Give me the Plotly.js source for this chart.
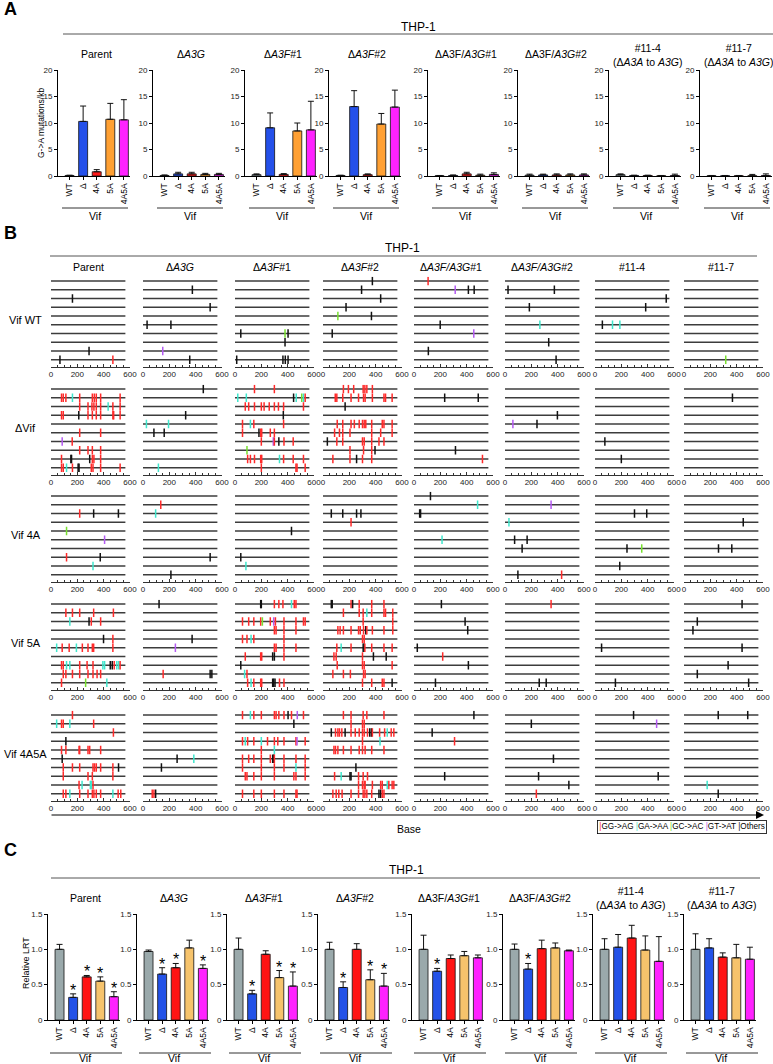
<!DOCTYPE html>
<html><head><meta charset="utf-8">
<script src="https://cdn.plot.ly/plotly-3.0.1.min.js"></script>
<style>html,body{margin:0;padding:0;background:#fff}#fig{width:773px;height:1064px}</style>
</head><body><div id="fig"></div>
<script>
// ---------------- DATA ----------------
const vifLabels = ['WT','Δ','4A','5A','4A5A'];
const colorsA = ['#9aa7ab','#2450ea','#ff1a1a','#ffa033','#ff22ff'];
const colorsC = ['#9aa9ab','#2352e8','#ff1414','#f6c36c','#ff22ff'];
const titlesA = ['Parent','Δ<i>A3G</i>','Δ<i>A3F</i>#1','Δ<i>A3F</i>#2','ΔA3F/<i>A3G</i>#1','ΔA3F/<i>A3G</i>#2','#11-4<br>(Δ<i>A3A</i> to <i>A3G</i>)','#11-7<br>(Δ<i>A3A</i> to <i>A3G</i>)'];
const titlesB = ['Parent','Δ<i>A3G</i>','Δ<i>A3F</i>#1','Δ<i>A3F</i>#2','Δ<i>A3F/A3G</i>#1','Δ<i>A3F/A3G</i>#2','#11-4','#11-7'];
const titlesC = titlesA;

// Panel A: G->A mutations/kb (mean, upper error)
const gaMean = [
  [0.1, 10.3, 0.8, 10.7, 10.6],
  [0.1, 0.4, 0.4, 0.3, 0.3],
  [0.25, 9.1, 0.3, 8.5, 8.7],
  [0.1, 13.1, 0.25, 9.8, 13.0],
  [0.05, 0.1, 0.4, 0.15, 0.3],
  [0.15, 0.2, 0.2, 0.2, 0.2],
  [0.25, 0.1, 0.1, 0.05, 0.1],
  [0.05, 0.05, 0.05, 0.05, 0.1]
];
const gaErr = [
  [0.05, 2.9, 0.4, 3.0, 3.8],
  [0.1, 0.3, 0.3, 0.2, 0.2],
  [0.15, 2.8, 0.15, 1.5, 5.4],
  [0.05, 3.0, 0.15, 2.0, 3.2],
  [0.05, 0.1, 0.3, 0.2, 0.3],
  [0.2, 0.15, 0.2, 0.2, 0.2],
  [0.15, 0.05, 0.05, 0.05, 0.25],
  [0.05, 0.05, 0.05, 0.25, 0.3]
];

// Panel C: relative LRT
const lrtMean = [
  [1.0, 0.32, 0.61, 0.55, 0.33],
  [0.97, 0.65, 0.74, 1.02, 0.73],
  [1.0, 0.37, 0.93, 0.60, 0.48],
  [1.0, 0.46, 1.0, 0.57, 0.48],
  [1.0, 0.69, 0.87, 0.91, 0.88],
  [1.0, 0.72, 1.01, 1.02, 0.98],
  [1.0, 1.03, 1.16, 0.99, 0.83],
  [1.0, 1.02, 0.89, 0.88, 0.86]
];
const lrtErr = [
  [0.07, 0.05, 0.02, 0.06, 0.07],
  [0.02, 0.09, 0.06, 0.11, 0.05],
  [0.16, 0.05, 0.05, 0.10, 0.20],
  [0.10, 0.08, 0.08, 0.14, 0.18],
  [0.20, 0.04, 0.05, 0.06, 0.04],
  [0.075, 0.08, 0.12, 0.07, 0.01],
  [0.15, 0.18, 0.18, 0.20, 0.35],
  [0.22, 0.13, 0.06, 0.19, 0.17]
];
const lrtStar = [
  [0,1,1,1,1],[0,1,1,0,1],[0,1,0,1,1],[0,1,0,1,1],
  [0,1,0,0,0],[0,1,0,0,0],[0,0,0,0,0],[0,0,0,0,0]
];

// Panel B: mutations per clone ("pos+type"; r=GG->AG, c=GA->AA, g=GC->AC, p=GT->AT, k=Others)
const seqLength = 565;
const mutNames = ['GG-&gt;AG','GA-&gt;AA','GC-&gt;AC','GT-&gt;AT','Others'];
const mutKeys = ['r','c','g','p','k'];
const mutColors = {r:'#ff2a2a', c:'#3fe6cc', g:'#78e030', p:'#b45af2', k:'#111111'};
const rowLabelsB = ['Vif WT','ΔVif','Vif 4A','Vif 5A','Vif 4A5A'];

const mutWT = [
  ['', '', '163k', '', '', '', '', '', '289k', '68k 470r'],
  ['', '375k', '', '510k', '', '31k 212k', '', '', '150p', '355k'],
  ['', '', '', '', '', '', '44k 380g 403k', '380k', '', '13k 364k 382k 403k'],
  ['375k', '293k', '438k', '175k', '113g 368k', '', '70k', '', '', ''],
  ['107r', '313p 413k 457k', '', '', '', '199k', '454p', '', '109k', ''],
  ['', '23k 375k', '', '185k', '', '265c', '', '332k', '', '388k'],
  ['', '', '541k', '385k', '', '56k 133c 189c', '', '', '', ''],
  ['', '', '', '', '', '', '', '', '', '317g']
];
const mutDVif = [
  ['', '80r 93r 113r 163c 218r 314r 329r 344r 377r 525r', '218r 281r 311r 326r 344r 377r 434c 470r 525r', '80r 93r 211k 281r 314r 344r 377r 470r 476r 525r', '', '218r 377r', '85p 161r', '218r 281r 314r 377r', '80r 151k 156k 294k 314r 326r 377r', '80r 93r 118c 163r 206k 213k 306r 319r 377r 525r'],
  ['458k', '', '', '324k', '26c 194c', '83k 161k', '', '', '', '117c'],
  ['148r 299r', '21c 86c 445k 465c 507g 520c 533r', '78r 104r 148r 200r 221r 260r 299r 330r 369r 520r', '367k', '57r 117c 143r 369r', '57r 182k 195r 203r 268r 299r', '200r 291p 299r 333k 372r 442r', '91g', '96r 117r 148r 195r 203r 338c 369r 442r 520r', '200r 463r 471r 533r'],
  ['155r 193r 233r 305r 318r 333r 375r', '93r 105r 150r 213r 270r 308r 320r 375r 463r 475r 525r', '168k', '', '108r 150r 213r 238r 275r 300r 313r 325r 370r 450r 463r 525r', '88r 125r 150r 205r 370r 438r 525r', '33k 105r 150r 300r 313r 370r 425r 463r', '205r 308r 370r 395k', '75r 205r 255k 300r 370r', ''],
  ['', '233k 488k', '', '', '', '', '', '315k', '520r', ''],
  ['', '', '', '398k', '60p 243k', '', '', '', '', ''],
  ['', '', '', '', '', '', '75k', '', '200k', ''],
  ['', '368k', '', '', '', '', '', '', '', '']
];
const mut4A = [
  ['', '', '218r 324k 512k', '', '118g', '407p', '', '118r 374k', '319c', ''],
  ['', '135r', '96c', '', '', '', '', '510k', '', '212k'],
  ['', '', '', '', '429k', '', '', '44k', '83c', ''],
  ['', '', '63k 150k 255k 288k', '213r', '', '', '', '', '', ''],
  ['125k', '483c', '43k 50k', '', '', '213c', '', '', '', ''],
  ['', '350p', '', '30c', '', '73k 168k', '130k', '', '', '98k 430r'],
  ['', '', '300k 393k', '', '', '', '243k 355g', '', '188k', ''],
  ['', '', '', '450k', '', '', '262k 363k', '', '', '']
];
const mut5A = [
  ['', '113r 163r 218r 324r 474r', '143c 289k 306r 377r', '', '399k 470r', '43c 85r 138r 193c 238r 281r 314r 324r 470r', '', '80r 93r 118c 143c 218r 274r 319r 394c 407c 450k 465k 480r 500c 515c 525r', '93r 113r 163r 218r 281r 319r 350r 377r', '80r 263g 424c'],
  ['122k', '', '', '', '373k', '246p', '', '', '153r 510k 523k', ''],
  ['195k 200k 299r 333r 364r 429c 450r 463r', '', '57r 104r 143r 195r 208g 268r 294p 307r 372r 463r 520r 533r', '299r 312r 372r 463r', '57r 91r 122c 143r 372r', '299r 312r 372r 463r', '78r 195r 203r 286k 299k 372r', '44k', '73c 91r', '96r 122c 143r 195r 203r 286k 294k 304k 338r 372r'],
  ['63k 70k 213r 225k 275r 370r 463r', '155r 275r 305r 333c 370r 463r 475r 530r', '305r 530r', '113r 130r 155r 213r 270r 283r 308r 325k 333r 375r 463r 530r', '300r 313r', '105r 138c 213r 305k 313k 318r 370r 463r 525r', '83r 100r 300r 383k 480k', '108r 300r 313r 525r', '75r 155r 208r 308r 320r', '300r 370r 450r 463r 525k'],
  ['208k', '', '388k', '408k', '', '25k', '218r', '413k', '', '163k'],
  ['350r', '', '', '', '', '', '', '', '', '260k 313k'],
  ['', '', '', '', '', '50k', '', '', '', '155k'],
  ['441k', '', '101k', '68k', '', '441k', '', '335k', '101k', '491k']
];
const mut4A5A = [
  ['163r', '43c 80r 93r 143c 324r', '474r', '113k', '80r 113r 213r 218r 281r 294r 377r', '85k', '93r 163r 218r 319r 331r 344r 377r 470r 513k', '93r 281r 314r 470r', '213r 236c 299c 306c 319r', '93r 113r 143c 218r 281r 314r 326r 344r 377r 470c 510r 530r'],
  ['', '', '', '', '', '259k 386c', '140k', '', '', '70r 83r 96k'],
  ['57r 117c 143r 200r 299r 312r 333r 372r 403k 429r 473p 520r', '447k', '', '57r 78c 96r 143r 200c 247r 299r 325r 372r 463r 471p 533r', '200r 299c', '57r 104r 143r 200r 268r 286k 294k 299r 372r 463r 533r', '57r 200r 299r 372r 463c 533r', '78r 91r 143r 200r 299r 447r 463r 533r', '', '57r 143r 200r 299r 372r 463r 471r'],
  ['155r 213r 305r 333r 463r', '213r 300r 313r', '63k 95r 113r 125r 143r 168k 213r 245r 275r 300r 313r 338r 355k 368k 375r 430r 468r 488c 518r 538r', '300r 433c', '83r 95r 113r 155r 213r 275r 300r 320r 370r 463r', '', '250k', '88r 138c 205k 213k 270r 305r 338r', '270r 300r 313r 320r 375r 438r 450r 488c 500r 525r 538r', '75r 100r 120r 145r 213r 270r 305r 318r 333r 370r 425k 438k 450r 463r'],
  ['455k', '', '138k', '308r', '', '', '', '233k', '', ''],
  ['', '200k', '', '', '', '368k', '', '255k', '485k', '238r'],
  ['293k', '468p', '', '', '', '', '', '480k', '', ''],
  ['260k 484k', '', '', '', '', '', '', '', '176c', '260k']
];
const mutRows = [mutWT, mutDVif, mut4A, mut5A, mut4A5A];

// ---------------- GEOMETRY (px) ----------------
const W = 773, H = 1064;
const FONT = 'Arial, "Liberation Sans", Helvetica, sans-serif';
const fx = p => p / W, fy = p => 1 - p / H;
const axA = [58,153,245,329,428,518,609,700];
const axB = [51,143,235,323,414,505,595,684];
const axC = [48,137,227,318,412,503,593,684];
const rowTopB = [281,389,496,604,715];
const lineStep = 8.75;

const data = [];
const layout = {
  width: W, height: H, margin:{l:0,r:0,t:0,b:0}, showlegend:false,
  paper_bgcolor:'#fff', plot_bgcolor:'rgba(0,0,0,0)',
  font:{family:FONT, color:'#000', size:10},
  annotations:[], shapes:[]
};
let n = 0;
function addAxes(xd, yd, xopt, yopt){
  n++;
  const s = n === 1 ? '' : String(n);
  layout['xaxis'+s] = Object.assign({domain:xd, anchor:'y'+s}, xopt);
  layout['yaxis'+s] = Object.assign({domain:yd, anchor:'x'+s}, yopt);
  return ['x'+s, 'y'+s];
}
function ann(o){ layout.annotations.push(Object.assign({xref:'paper', yref:'paper', showarrow:false, xanchor:'center', yanchor:'middle', font:{family:FONT, size:10, color:'#000'}}, o)); }
function hline(x0, x1, y, w, c){ layout.shapes.push({type:'line', xref:'paper', yref:'paper', x0:fx(x0), x1:fx(x1), y0:fy(y), y1:fy(y), line:{color:c||'#000', width:w||1}}); }

function barPanel(axPx, topPx, botPx, means, errs, colors, yRange, yTicks, yText, stars){
  const [xr, yr] = addAxes([fx(axPx), fx(axPx+72)], [fy(botPx), fy(topPx)], {
    type:'category', categoryarray:vifLabels, range:[-0.85, 4.45],
    showline:true, linecolor:'#000', linewidth:1, ticks:'outside', ticklen:3, tickwidth:1, tickcolor:'#000',
    tickangle:-90, tickfont:{size:8.5, family:FONT}, showgrid:false, zeroline:false, fixedrange:true
  }, {
    range:yRange, tickmode:'array', tickvals:yTicks, ticktext:yText, showline:true, linecolor:'#000', linewidth:1,
    ticks:'outside', ticklen:3, tickwidth:1, tickcolor:'#000', tickfont:{size:8, family:FONT, color:'#222'},
    showgrid:false, zeroline:false, fixedrange:true
  });
  data.push({type:'bar', x:vifLabels, y:means, xaxis:xr, yaxis:yr, width:0.66,
    marker:{color:colors, line:{color:'#111', width:0.8}},
    error_y:{type:'data', symmetric:false, array:errs, arrayminus:errs.map(()=>0), color:'#111', thickness:1, width:3}});
  if(stars){
    stars.forEach((s, j) => { if(s) layout.annotations.push({xref:xr, yref:yr, x:vifLabels[j], y:means[j]+errs[j], text:'*', showarrow:false, xanchor:'center', yanchor:'bottom', yshift:-7, font:{family:FONT, size:16, color:'#000'}}); });
  }
}

// ---------------- PANEL A ----------------
ann({x:fx(2), y:fy(9), text:'<b>A</b>', xanchor:'left', font:{family:FONT, size:18}});
ann({x:fx(418), y:fy(27), text:'THP-1', font:{family:FONT, size:12}});
hline(63, 773, 34, 1, '#555');
ann({x:fx(41), y:fy(123), text:'G-&gt;A mutations/kb', textangle:-90, font:{family:FONT, size:8.5}});
for(let i=0;i<8;i++){
  barPanel(axA[i], 70, 176, gaMean[i], gaErr[i], colorsA, [0,20], [0,5,10,15,20], ['0','5','10','15','20'], null);
  const two = titlesA[i].indexOf('<br>') >= 0;
  ann({x:fx(axA[i]+38), y:fy(two ? 55 : 54), text:titlesA[i], font:{family:FONT, size:10.5}});
  hline(axA[i]+4, axA[i]+70, 208, 1, '#333');
  ann({x:fx(axA[i]+37), y:fy(216), text:'Vif', font:{family:FONT, size:10.5}});
}

// ---------------- PANEL B ----------------
ann({x:fx(2), y:fy(233), text:'<b>B</b>', xanchor:'left', font:{family:FONT, size:18}});
ann({x:fx(403), y:fy(248), text:'THP-1', font:{family:FONT, size:12}});
hline(50, 757, 256, 1, '#555');
for(let c=0;c<8;c++){
  ann({x:fx(axB[c]+37), y:fy(267), text:titlesB[c], font:{family:FONT, size:10.5}});
}
mutRows.forEach((rowData, r) => {
  const t0 = rowTopB[r];
  const topPx = t0 - lineStep/2, botPx = t0 + 9*lineStep + 7;
  const yMax = 1 + (botPx - t0)/lineStep, yMin = 1 + (topPx - t0)/lineStep;
  ann({x:fx(26), y:fy(t0 + 4.5*lineStep), text:rowLabelsB[r], font:{family:FONT, size:11}});
  for(let c=0;c<8;c++){
    const [xr, yr] = addAxes([fx(axB[c]), fx(axB[c]+79)], [fy(botPx), fy(topPx)], {
      range:[0,600], tick0:0, dtick:200, showline:true, linecolor:'#000', linewidth:0.8,
      ticks:'inside', ticklen:3, tickwidth:0.8, tickcolor:'#000', tickfont:{size:8, family:FONT, color:'#222'},
      minor:{dtick:50, tick0:0, ticks:'inside', ticklen:2, tickwidth:0.8, tickcolor:'#000', showgrid:false},
      showgrid:false, zeroline:false, fixedrange:true
    }, {range:[yMax, yMin], visible:false, showgrid:false, zeroline:false, fixedrange:true});
    const seqs = rowData[c];
    const lx = [], ly = [], mx = [], my = [], mc = [];
    seqs.forEach((s, i) => {
      lx.push(0, seqLength, null); ly.push(i+1, i+1, null);
      s.split(' ').filter(Boolean).forEach(tok => {
        mx.push(parseFloat(tok)); my.push(i+1); mc.push(mutColors[tok.slice(-1)]);
      });
    });
    data.push({type:'scatter', mode:'lines', x:lx, y:ly, xaxis:xr, yaxis:yr, line:{color:'#3c3c3c', width:1.4}, hoverinfo:'skip'});
    if(mx.length) data.push({type:'scatter', mode:'markers', x:mx, y:my, xaxis:xr, yaxis:yr,
      marker:{symbol:'line-ns-open', size:6, color:mc, line:{width:1.5}}, hoverinfo:'skip'});
  }
});
// Base arrow
layout.annotations.push({xref:'paper', yref:'paper', x:fx(764), y:fy(815), ax:-714, ay:0, axref:'pixel', ayref:'pixel',
  showarrow:true, arrowhead:2, arrowsize:1.6, arrowwidth:1, arrowcolor:'#000', text:''});
ann({x:fx(409), y:fy(829), text:'Base', font:{family:FONT, size:10.5}});
const legText = mutKeys.map((k, i) => '<span style="color:' + mutColors[k] + '">|</span>' + mutNames[i]).join(' ');
ann({x:fx(682), y:fy(827), text:legText, bordercolor:'#000', borderwidth:0.8, borderpad:1.5, font:{family:FONT, size:8.2}});

// ---------------- PANEL C ----------------
ann({x:fx(2), y:fy(850), text:'<b>C</b>', xanchor:'left', font:{family:FONT, size:18}});
ann({x:fx(406), y:fy(870), text:'THP-1', font:{family:FONT, size:12}});
hline(51, 760, 878, 1, '#555');
ann({x:fx(26), y:fy(963), text:'Relative LRT', textangle:-90, font:{family:FONT, size:9}});
for(let i=0;i<8;i++){
  barPanel(axC[i], 914, 1020, lrtMean[i], lrtErr[i], colorsC, [0,1.5], [0,0.5,1,1.5], ['0','0.5','1.0','1.5'], lrtStar[i]);
  ann({x:fx(axC[i]+37), y:fy(898), text:titlesC[i], font:{family:FONT, size:10.5}});
  hline(axC[i]+2, axC[i]+74, 1053, 1, '#333');
  ann({x:fx(axC[i]+37), y:fy(1058), text:'Vif', font:{family:FONT, size:10.5}});
}

Plotly.newPlot('fig', data, layout, {staticPlot:true, displayModeBar:false});
</script></body></html>
